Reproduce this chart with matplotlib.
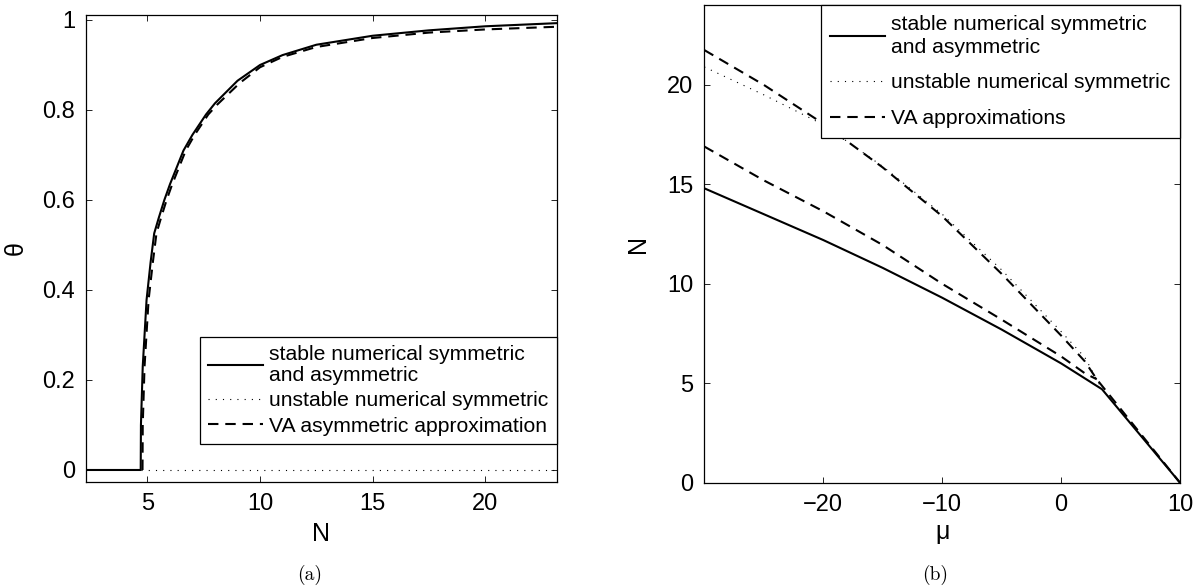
import matplotlib
matplotlib.use("Agg")
import matplotlib.pyplot as plt

plt.rcParams['font.family'] = ['Liberation Sans', 'DejaVu Sans']

# ---------------- panel (a) data ----------------
N_stable = [2.27, 4.70, 4.71, 4.79, 4.96, 5.14, 5.30, 5.50, 5.75, 6.0, 6.6, 7.0, 7.6,
            8.0, 9.0, 10.0, 11.0, 12.5, 15.0, 17.5, 20.0, 23.19]
theta_stable = [0.0, 0.0, 0.10, 0.23, 0.378, 0.462, 0.526, 0.56, 0.60, 0.635, 0.71, 0.745,
                0.79, 0.815, 0.865, 0.90, 0.922, 0.945, 0.965, 0.977, 0.986, 0.993]
N_unstable = [4.70, 23.19]
theta_unstable = [0.0, 0.0]
N_va = [4.78, 4.79, 4.87, 5.05, 5.24, 5.40, 5.60, 5.85, 6.1, 6.7, 7.1, 7.7,
        8.1, 9.1, 10.0, 11.0, 12.5, 15.0, 17.5, 20.0, 23.19]
theta_va = [0.0, 0.10, 0.23, 0.378, 0.462, 0.526, 0.56, 0.60, 0.635, 0.71, 0.745, 0.79,
            0.812, 0.86, 0.895, 0.918, 0.94, 0.96, 0.972, 0.979, 0.985]

# ---------------- panel (b) data ----------------
mu_stable = [-30, -25, -20, -15, -10, -5, 0, 3.44, 10]
Nb_stable = [14.8, 13.5, 12.2, 10.8, 9.3, 7.7, 6.0, 4.7, 0.0]
mu_unstable = [-30, -25, -22, -20, -15, -10, -5, 0, 2, 3.44]
Nb_unstable = [20.9, 19.5, 18.6, 18.0, 15.9, 13.5, 10.7, 7.6, 6.3, 4.7]
mu_va_sym = [-30, -25, -20, -15, -10, -5, 0, 2, 3, 10]
Nb_va_sym = [21.75, 20.0, 18.05, 15.85, 13.4, 10.5, 7.4, 6.1, 5.2, 0.0]
mu_va_asym = [-30, -25, -20, -15, -10, -5, 0, 2, 3]
Nb_va_asym = [16.9, 15.2, 13.65, 11.95, 10.0, 8.2, 6.35, 5.5, 5.2]

W, H = 1196, 588
fig = plt.figure(figsize=(W / 100, H / 100), dpi=100)

def frac(l, t, r, b):
    return [l / W, 1 - b / H, (r - l) / W, (b - t) / H]

ax1 = fig.add_axes(frac(86, 15, 557, 482))
ax2 = fig.add_axes(frac(704.3, 5.3, 1180, 482.7))

dash = (0, (5, 3.3))
dot = (0, (1, 5.5))
tick_fs = 17
label_fs = 18
leg_fs = 15.2

# panel (a)
ax1.plot(N_stable, theta_stable, color='black', lw=1.5, ls='-',
         label='stable numerical symmetric\nand asymmetric')
ax1.plot(N_unstable, theta_unstable, color='black', lw=0.8, ls=dot,
         label='unstable numerical symmetric')
ax1.plot(N_va, theta_va, color='black', lw=1.5, ls=dash,
         label='VA asymmetric approximation')
ax1.set_xlim(2.27, 23.19)
ax1.set_ylim(-0.0267, 1.0111)
ax1.set_xticks([5, 10, 15, 20])
ax1.set_yticks([0, 0.2, 0.4, 0.6, 0.8, 1.0])
ax1.set_yticklabels(['0', '0.2', '0.4', '0.6', '0.8', '1'])
ax1.set_xlabel('N', fontsize=label_fs, labelpad=5)
ax1.set_ylabel('θ', fontsize=label_fs, labelpad=10)
leg1 = ax1.legend(loc='lower right', bbox_to_anchor=(1.0, 0.0814), borderaxespad=0,
                  fontsize=leg_fs, frameon=True, fancybox=False, edgecolor='black',
                  framealpha=1, handlelength=2.6, handletextpad=0.3,
                  borderpad=0.4, labelspacing=0.3)

# panel (b)
ax2.plot(mu_stable, Nb_stable, color='black', lw=1.5, ls='-',
         label='stable numerical symmetric\nand asymmetric')
ax2.plot(mu_unstable, Nb_unstable, color='black', lw=0.8, ls=dot,
         label='unstable numerical symmetric')
ax2.plot(mu_va_sym, Nb_va_sym, color='black', lw=1.5, ls=dash,
         label='VA approximations')
ax2.plot(mu_va_asym, Nb_va_asym, color='black', lw=1.5, ls=dash)
ax2.set_xlim(-30, 10)
ax2.set_ylim(0, 24)
ax2.set_xticks([-20, -10, 0, 10])
ax2.set_xticklabels(['\u221220', '\u221210', '0', '10'])
ax2.set_yticks([0, 5, 10, 15, 20])
ax2.set_xlabel('μ', fontsize=label_fs, labelpad=3)
ax2.set_ylabel('N', fontsize=label_fs, labelpad=12)
leg2 = ax2.legend(loc='upper right', bbox_to_anchor=(1.0, 1.0), borderaxespad=0,
                  fontsize=leg_fs, frameon=True, fancybox=False, edgecolor='black',
                  framealpha=1, handlelength=2.6, handletextpad=0.3,
                  borderpad=0.45, labelspacing=0.8)

for leg, ls_ in ((leg1, 1.1), (leg2, 1.25)):
    leg.get_frame().set_linewidth(0.9)
    for t in leg.get_texts():
        t.set_linespacing(ls_)

for ax in (ax1, ax2):
    ax.tick_params(direction='in', top=True, right=True, length=4, width=0.6,
                   labelsize=tick_fs, pad=8)
    for s in ax.spines.values():
        s.set_linewidth(0.9)

fig.text(310 / W, 1 - 575 / H, '(a)', fontsize=14, family='cmr10', ha='center', va='center')
fig.text(935 / W, 1 - 575 / H, '(b)', fontsize=14, family='cmr10', ha='center', va='center')

fig.savefig('out.png', dpi=100)
